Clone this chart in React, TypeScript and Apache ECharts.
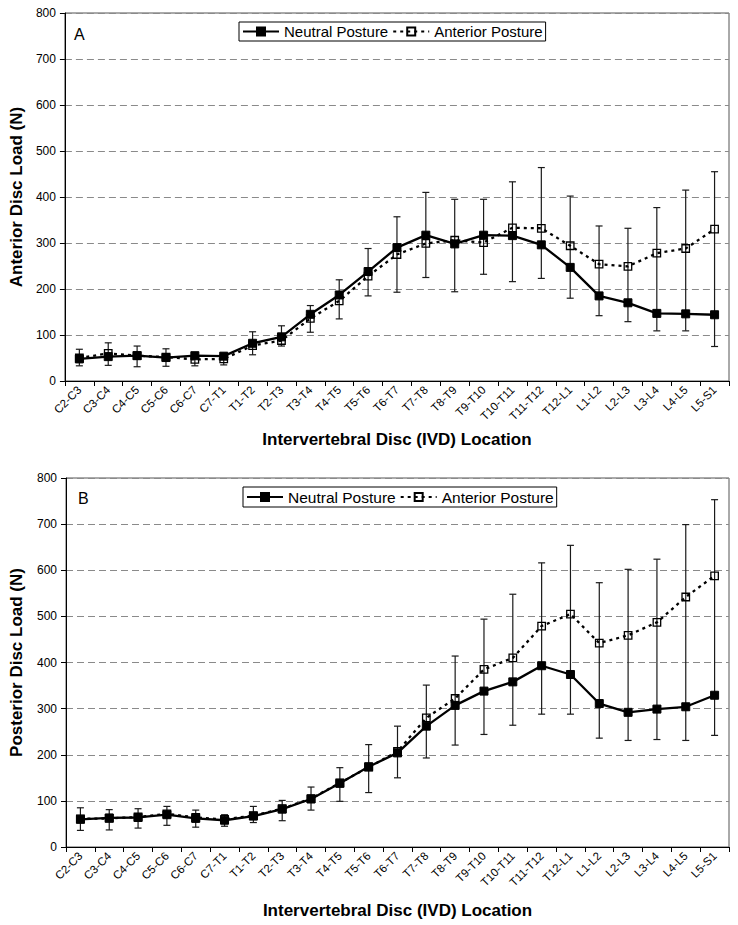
import React, { useEffect, useRef } from 'react';
import * as echarts from 'echarts';

const categories = [
  'C2-C3', 'C3-C4', 'C4-C5', 'C5-C6', 'C6-C7', 'C7-T1', 'T1-T2', 'T2-T3', 'T3-T4', 'T4-T5',
  'T5-T6', 'T6-T7', 'T7-T8', 'T8-T9', 'T9-T10', 'T10-T11', 'T11-T12', 'T12-L1', 'L1-L2',
  'L2-L3', 'L3-L4', 'L4-L5', 'L5-S1',
];

// Panel A – anterior disc load (N)
const neutralA = [48, 53, 55, 51, 55, 54, 82, 96, 145, 187, 238, 290, 317, 298, 317, 316, 296, 247, 185, 170, 147, 146, 144];
const anteriorA = [50, 60, 55, 52, 47, 48, 77, 88, 136, 174, 228, 275, 299, 306, 301, 333, 332, 294, 254, 249, 278, 288, 330];
const errLowA = [33, 34, 31, 32, 33, 35, 57, 76, 106, 135, 185, 193, 225, 194, 232, 216, 223, 180, 142, 129, 109, 109, 75];
const errHighA = [69, 83, 76, 70, 60, 60, 107, 120, 164, 220, 288, 357, 410, 395, 395, 433, 464, 402, 337, 332, 377, 415, 455];

// Panel B – posterior disc load (N)
const neutralB = [60, 63, 64, 70, 62, 58, 67, 82, 104, 138, 174, 204, 262, 307, 338, 358, 393, 374, 311, 292, 299, 304, 329];
const anteriorB = [61, 62, 65, 72, 64, 60, 68, 83, 105, 139, 173, 207, 280, 322, 385, 410, 479, 505, 442, 459, 487, 542, 588];
const errLowB = [36, 37, 41, 47, 43, 45, 53, 57, 80, 99, 118, 150, 193, 221, 244, 264, 288, 288, 236, 231, 233, 231, 242];
const errHighB = [85, 81, 83, 88, 80, 70, 88, 101, 130, 172, 222, 262, 351, 414, 494, 548, 616, 654, 573, 602, 624, 699, 753];

const yMin = 0;
const yMax = 800;
const yStep = 100;

const FONT = 'Liberation Sans, Arial, sans-serif';

export default function App() {
  const ref = useRef<HTMLDivElement>(null);

  useEffect(() => {
    document.body.style.margin = '0';
    const chart = echarts.init(ref.current as HTMLDivElement, null, { renderer: 'svg' });

    const errRender = (params: any, api: any) => {
      const x = api.value(0);
      const lo = api.coord([x, api.value(1)]);
      const hi = api.coord([x, api.value(2)]);
      const w = 3.5;
      const style = { stroke: '#1a1a1a', lineWidth: 1.2, fill: 'none' };
      return {
        type: 'group',
        children: [
          { type: 'line', shape: { x1: lo[0], y1: lo[1], x2: hi[0], y2: hi[1] }, style },
          { type: 'line', shape: { x1: lo[0] - w, y1: lo[1], x2: lo[0] + w, y2: lo[1] }, style },
          { type: 'line', shape: { x1: hi[0] - w, y1: hi[1], x2: hi[0] + w, y2: hi[1] }, style },
        ],
      };
    };

    const xAxisBase = (gridIndex: number, nameGap: number) => ({
      type: 'category',
      gridIndex,
      data: categories,
      boundaryGap: true,
      name: 'Intervertebral Disc (IVD) Location',
      nameLocation: 'middle',
      nameGap,
      nameTextStyle: { fontFamily: FONT, fontSize: 17, fontWeight: 'bold', color: '#000' },
      axisLine: { show: true, lineStyle: { color: '#000', width: 1 } },
      axisTick: { show: true, length: 5, lineStyle: { color: '#000' } },
      axisLabel: {
        interval: 0,
        rotate: 45,
        margin: 7,
        fontFamily: FONT,
        fontSize: 11.5,
        color: '#000',
      },
      splitLine: { show: false },
    });

    const yAxisBase = (gridIndex: number, name: string, nameGap: number) => ({
      type: 'value',
      gridIndex,
      min: yMin,
      max: yMax,
      interval: yStep,
      name,
      nameLocation: 'middle',
      nameGap,
      nameTextStyle: { fontFamily: FONT, fontSize: 17, fontWeight: 'bold', color: '#000' },
      axisLine: { show: true, lineStyle: { color: '#000', width: 1 } },
      axisTick: { show: true, length: 5, lineStyle: { color: '#000' } },
      axisLabel: { fontFamily: FONT, fontSize: 12, color: '#000', margin: 9 },
      splitLine: { show: true, lineStyle: { color: '#8a8a8a', type: [7, 4], width: 1 } },
    });

    const neutralSeries = (idx: number, data: number[]) => ({
      name: 'Neutral Posture',
      type: 'line',
      xAxisIndex: idx,
      yAxisIndex: idx,
      data,
      symbol: 'rect',
      symbolSize: 8,
      z: 5,
      itemStyle: { color: '#000', borderColor: '#000', borderWidth: 1 },
      lineStyle: { color: '#000', width: 2.3, type: 'solid' },
    });

    const anteriorSeries = (idx: number, data: number[]) => ({
      name: 'Anterior Posture',
      type: 'line',
      xAxisIndex: idx,
      yAxisIndex: idx,
      data,
      symbol: 'rect',
      symbolSize: 7.5,
      z: 4,
      itemStyle: { color: 'rgba(255,255,255,0)', borderColor: '#000', borderWidth: 1.3 },
      lineStyle: { color: '#000', width: 2.3, type: [3, 4] },
    });

    const errSeries = (idx: number, lo: number[], hi: number[]) => ({
      name: 'err' + idx,
      type: 'custom',
      xAxisIndex: idx,
      yAxisIndex: idx,
      z: 3,
      silent: true,
      data: categories.map((_, i) => [i, lo[i], hi[i]]),
      encode: { x: 0, y: [1, 2] },
      renderItem: errRender,
    });

    const legendBase = (left: number, top: number, fontSize: number) => ({
      left,
      top,
      orient: 'horizontal',
      data: ['Neutral Posture', 'Anterior Posture'],
      itemWidth: 36,
      itemHeight: 10,
      itemGap: 4,
      padding: [2, 3, 2, 3],
      borderColor: '#000',
      borderWidth: 1,
      borderRadius: 0,
      backgroundColor: '#fff',
      selectedMode: false,
      textStyle: { fontFamily: FONT, fontSize, color: '#000' },
    });

    const option = {
      animation: false,
      backgroundColor: '#fff',
      textStyle: { fontFamily: FONT },
      grid: [
        { left: 58, top: 13, width: 671, height: 368, show: true, borderColor: '#555', borderWidth: 1, backgroundColor: 'transparent' },
        { left: 65, top: 478, width: 664, height: 369, show: true, borderColor: '#555', borderWidth: 1, backgroundColor: 'transparent' },
      ],
      legend: [legendBase(239, 22, 15), legendBase(243, 487, 15.5)],
      xAxis: [xAxisBase(0, 50), xAxisBase(1, 55)],
      yAxis: [yAxisBase(0, 'Anterior Disc Load (N)', 34), yAxisBase(1, 'Posterior Disc Load (N)', 41)],
      graphic: [
        { type: 'text', left: 74, top: 26, style: { text: 'A', font: `16px ${FONT}`, fill: '#000' } },
        { type: 'text', left: 78, top: 490, style: { text: 'B', font: `16px ${FONT}`, fill: '#000' } },
      ],
      series: [
        errSeries(0, errLowA, errHighA),
        anteriorSeries(0, anteriorA),
        neutralSeries(0, neutralA),
        errSeries(1, errLowB, errHighB),
        anteriorSeries(1, anteriorB),
        neutralSeries(1, neutralB),
      ],
    };

    chart.setOption(option as any);
    return () => chart.dispose();
  }, []);

  return <div ref={ref} style={{ width: 738, height: 925 }} />;
}
